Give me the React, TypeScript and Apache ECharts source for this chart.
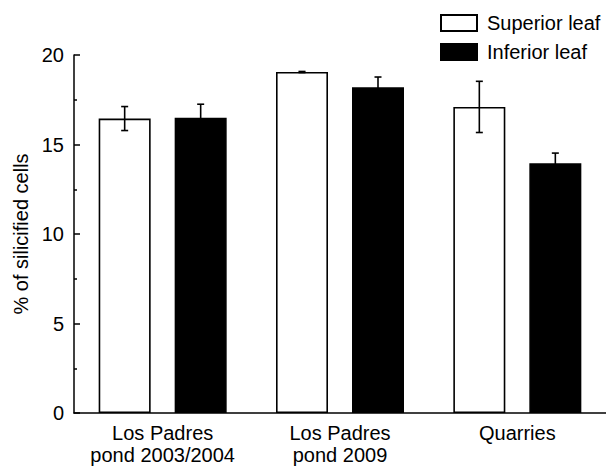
import React, { useEffect, useRef } from "react";
import * as echarts from "echarts";

const categories = ["Los Padres\npond 2003/2004", "Los Padres\npond 2009", "Quarries"];
const superiorValues = [16.45, 19.05, 17.1];
const superiorErrors = [0.67, 0.03, 1.43];
const inferiorValues = [16.5, 18.2, 13.95];
const inferiorErrors = [0.75, 0.57, 0.57];
const yTicks = { min: 0, max: 20, interval: 5 };

const FONT = "'Liberation Sans', Arial, sans-serif";
const BAR_W = 52;
const BAR_GAP = 24;

function errorSeries(name: string, values: number[], errors: number[], offset: number) {
  return {
    type: "custom",
    name,
    z: 10,
    silent: true,
    data: values.map((v, i) => [i, v, errors[i]]),
    renderItem: (params: any, api: any) => {
      const i = api.value(0);
      const v = api.value(1);
      const e = api.value(2);
      const c = api.coord([i, v]);
      const x = c[0] + offset;
      const yT = api.coord([i, v + e])[1];
      const yB = api.coord([i, v - e])[1];
      const cap = 3.5;
      const style = { stroke: "#000", lineWidth: 1.6 };
      return {
        type: "group",
        children: [
          { type: "line", shape: { x1: x, y1: yT, x2: x, y2: yB }, style },
          { type: "line", shape: { x1: x - cap, y1: yT, x2: x + cap, y2: yT }, style },
          { type: "line", shape: { x1: x - cap, y1: yB, x2: x + cap, y2: yB }, style },
        ],
      };
    },
  };
}

export default function App() {
  const ref = useRef<HTMLDivElement>(null);
  useEffect(() => {
    if (!ref.current) return;
    const chart = echarts.init(ref.current, null, { renderer: "svg" });
    const off = (BAR_W + BAR_GAP) / 2;
    chart.setOption({
      animation: false,
      backgroundColor: "#fff",
      textStyle: { fontFamily: FONT, color: "#000" },
      legend: {
        data: ["Superior leaf", "Inferior leaf"],
        orient: "vertical",
        left: 440,
        top: 13,
        padding: 0,
        itemWidth: 36,
        itemHeight: 16,
        itemGap: 9,
        icon: "rect",
        textStyle: { fontSize: 20, color: "#000", fontFamily: FONT, padding: [0, 0, 0, 5] },
      },
      grid: { left: 74, top: 55, width: 536, height: 358, containLabel: false },
      xAxis: {
        type: "category",
        data: categories,
        axisLine: { lineStyle: { color: "#000", width: 1.5 } },
        axisTick: { show: false },
        axisLabel: {
          interval: 0,
          hideOverlap: false,
          fontSize: 20,
          color: "#000",
          fontFamily: FONT,
          lineHeight: 22,
          margin: 9,
        },
      },
      yAxis: {
        type: "value",
        min: yTicks.min,
        max: yTicks.max,
        interval: yTicks.interval,
        name: "% of silicified cells",
        nameLocation: "middle",
        nameGap: 42,
        nameTextStyle: { fontSize: 20, color: "#000", fontFamily: FONT },
        axisLine: { show: true, lineStyle: { color: "#000", width: 1.5 } },
        axisTick: { show: true, inside: true, length: 6, lineStyle: { color: "#000", width: 1.5 } },
        minorTick: { show: true, splitNumber: 2, length: 3, lineStyle: { color: "#000", width: 1.5 } },
        splitLine: { show: false },
        axisLabel: { fontSize: 20, color: "#000", fontFamily: FONT, margin: 10 },
      },
      series: [
        {
          type: "bar",
          name: "Superior leaf",
          data: superiorValues,
          barWidth: BAR_W,
          barGap: (BAR_GAP / BAR_W) * 100 + "%",
          itemStyle: { color: "#fff", borderColor: "#000", borderWidth: 1.6 },
        },
        {
          type: "bar",
          name: "Inferior leaf",
          data: inferiorValues,
          barWidth: BAR_W,
          barGap: (BAR_GAP / BAR_W) * 100 + "%",
          itemStyle: { color: "#000", borderColor: "#000", borderWidth: 1.6 },
        },
        errorSeries("superr", superiorValues, superiorErrors, -off),
        errorSeries("inferr", inferiorValues, inferiorErrors, off),
      ],
    });
    return () => chart.dispose();
  }, []);
  return (
    <div
      ref={ref}
      style={{ position: "fixed", left: 0, top: 0, width: 606, height: 466, background: "#fff" }}
    />
  );
}
